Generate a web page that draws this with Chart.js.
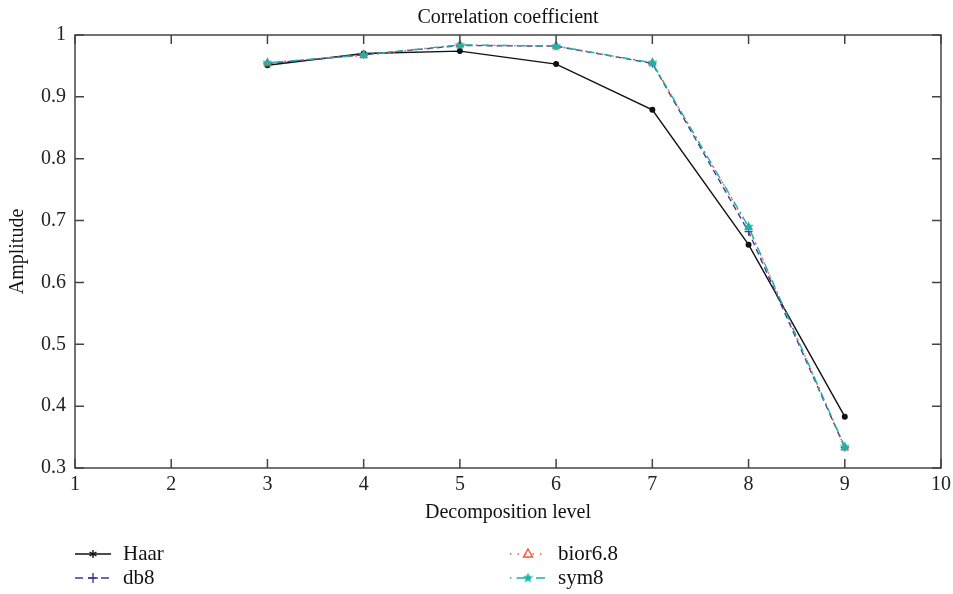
<!DOCTYPE html>
<html>
<head>
<meta charset="utf-8">
<script src="https://cdn.jsdelivr.net/npm/chart.js@4/dist/chart.umd.min.js"></script>
<style>
  html, body { margin: 0; padding: 0; background: #fff; }
  #wrap { width: 953px; height: 594px; position: relative; }
</style>
</head>
<body>
<div id="wrap"><canvas id="myChart"></canvas></div>
<script>
// Data
const levels = [3, 4, 5, 6, 7, 8, 9];
const haar = [0.951, 0.970, 0.974, 0.953, 0.879, 0.661, 0.383];
const db8 = [0.954, 0.968, 0.983, 0.982, 0.954, 0.682, 0.333];
const bior68 = [0.955, 0.967, 0.984, 0.982, 0.955, 0.689, 0.333];
const sym8 = [0.955, 0.968, 0.984, 0.982, 0.955, 0.690, 0.334];
const seriesNames = ["Haar", "db8", "bior6.8", "sym8"];
const xTicks = [1, 2, 3, 4, 5, 6, 7, 8, 9, 10];
const yTicks = [0.3, 0.4, 0.5, 0.6, 0.7, 0.8, 0.9, 1];

const FONT = "'Liberation Serif', 'DejaVu Serif', serif";
const colors = { haar: "#111111", db8: "#3f3d99", bior: "#f0583a", sym: "#1cb4aa" };
const ctx = document.getElementById('myChart');

function toPoints(ys) {
  return levels.map(function (x, i) { return { x: x, y: ys[i] }; });
}

// filled star marker for sym8
function starImage(size, color) {
  const c = document.createElement('canvas');
  c.width = size; c.height = size;
  const g = c.getContext('2d');
  const cx = size / 2, cy = size / 2, R = size / 2, r = R * 0.45;
  g.beginPath();
  for (let i = 0; i < 10; i++) {
    const rad = i % 2 === 0 ? R : r;
    const a = -Math.PI / 2 + i * Math.PI / 5;
    g.lineTo(cx + rad * Math.cos(a), cy + rad * Math.sin(a));
  }
  g.closePath();
  g.fillStyle = color;
  g.fill();
  return c;
}
const star = starImage(11, colors.sym);

// inward ticks on all four sides, box, title and legend
const framePlugin = {
  id: 'frame',
  afterDatasetsDraw(chart) {
    const g = chart.ctx;
    const a = chart.chartArea;
    const xs = chart.scales.x, ys = chart.scales.y;
    g.save();
    g.strokeStyle = '#444';
    g.lineWidth = 1.5;
    g.strokeRect(a.left, a.top, a.right - a.left, a.bottom - a.top);
    g.beginPath();
    xTicks.forEach(function (t) {
      const px = xs.getPixelForValue(t);
      g.moveTo(px, a.bottom); g.lineTo(px, a.bottom - 9);
      g.moveTo(px, a.top); g.lineTo(px, a.top + 9);
    });
    yTicks.forEach(function (t) {
      const py = ys.getPixelForValue(t);
      g.moveTo(a.left, py); g.lineTo(a.left + 9, py);
      g.moveTo(a.right, py); g.lineTo(a.right - 9, py);
    });
    g.stroke();

    // title
    g.fillStyle = '#111';
    g.font = "20px " + FONT;
    g.textAlign = 'center';
    g.textBaseline = 'middle';
    g.fillText('Correlation coefficient', (a.left + a.right) / 2, 18);

    // legend
    const items = [
      { name: seriesNames[0], x: 75, y: 554, color: colors.haar, dash: [], marker: 'asterisk' },
      { name: seriesNames[1], x: 75, y: 578, color: colors.db8, dash: [8, 5], marker: 'plus' },
      { name: seriesNames[2], x: 510, y: 554, color: colors.bior, dash: [1.5, 6], marker: 'tri' },
      { name: seriesNames[3], x: 510, y: 578, color: colors.sym, dash: [1.5, 5, 9, 4], marker: 'star' }
    ];
    items.forEach(function (it) {
      g.strokeStyle = it.color;
      g.lineWidth = 1.4;
      g.setLineDash(it.dash);
      g.beginPath(); g.moveTo(it.x, it.y); g.lineTo(it.x + 36, it.y); g.stroke();
      g.setLineDash([]);
      const mx = it.x + 18, my = it.y;
      g.beginPath();
      if (it.marker === 'asterisk') {
        for (let k = 0; k < 3; k++) {
          const ang = k * Math.PI / 3 + Math.PI / 2;
          g.moveTo(mx - 4 * Math.cos(ang), my - 4 * Math.sin(ang));
          g.lineTo(mx + 4 * Math.cos(ang), my + 4 * Math.sin(ang));
        }
        g.stroke();
      } else if (it.marker === 'plus') {
        g.moveTo(mx - 5, my); g.lineTo(mx + 5, my);
        g.moveTo(mx, my - 5); g.lineTo(mx, my + 5);
        g.stroke();
      } else if (it.marker === 'tri') {
        g.moveTo(mx, my - 5); g.lineTo(mx + 4.5, my + 3); g.lineTo(mx - 4.5, my + 3); g.closePath();
        g.stroke();
      } else {
        g.drawImage(star, mx - 5.5, my - 5.5);
      }
      g.fillStyle = '#111';
      g.font = "21px " + FONT;
      g.textAlign = 'left';
      g.fillText(it.name, it.x + 48, it.y);
    });
    g.restore();
  }
};

new Chart(ctx, {
  type: 'line',
  data: {
    datasets: [
      {
        label: seriesNames[3], data: toPoints(sym8), borderColor: colors.sym, backgroundColor: colors.sym,
        borderWidth: 1.4, borderDash: [1.5, 4, 8, 4], pointStyle: star, pointRadius: 5, order: 0
      },
      {
        label: seriesNames[2], data: toPoints(bior68), borderColor: colors.bior, backgroundColor: '#fff',
        borderWidth: 1.4, borderDash: [1.5, 4], pointStyle: 'triangle', pointRadius: 4, pointBorderWidth: 1.2, order: 1
      },
      {
        label: seriesNames[1], data: toPoints(db8), borderColor: colors.db8, backgroundColor: colors.db8,
        borderWidth: 1.4, borderDash: [6, 4], pointStyle: 'cross', pointRadius: 4, pointBorderWidth: 1.2, order: 2
      },
      {
        label: seriesNames[0], data: toPoints(haar), borderColor: colors.haar, backgroundColor: colors.haar,
        borderWidth: 1.4, pointStyle: 'circle', pointRadius: 2.3, order: 3
      }
    ]
  },
  options: {
    responsive: true,
    maintainAspectRatio: false,
    animation: false,
    layout: { padding: { left: 0, right: 12, top: 35, bottom: 69 } },
    plugins: {
      legend: { display: false },
      title: { display: false },
      tooltip: { enabled: false }
    },
    scales: {
      x: {
        type: 'linear', min: 1, max: 10,
        grid: { display: false, drawTicks: false },
        border: { display: false },
        ticks: { stepSize: 1, padding: 5, color: '#222', font: { family: FONT, size: 20 } },
        title: { display: true, text: 'Decomposition level', color: '#111', font: { family: FONT, size: 20 }, padding: { top: 4, bottom: 0 } },
        afterFit: function (s) { s.height = 57; s.paddingRight = 0; s.paddingLeft = 0; }
      },
      y: {
        min: 0.3, max: 1,
        grid: { display: false, drawTicks: false },
        border: { display: false },
        ticks: { stepSize: 0.1, padding: 9, color: '#222', font: { family: FONT, size: 20 },
          callback: function (v) { return Math.round(v * 10) / 10; } },
        title: { display: true, text: 'Amplitude', color: '#111', font: { family: FONT, size: 20 }, padding: { top: 6, bottom: 0 } },
        afterFit: function (s) { s.width = 75; }
      }
    }
  },
  plugins: [framePlugin]
});
</script>
</body>
</html>
